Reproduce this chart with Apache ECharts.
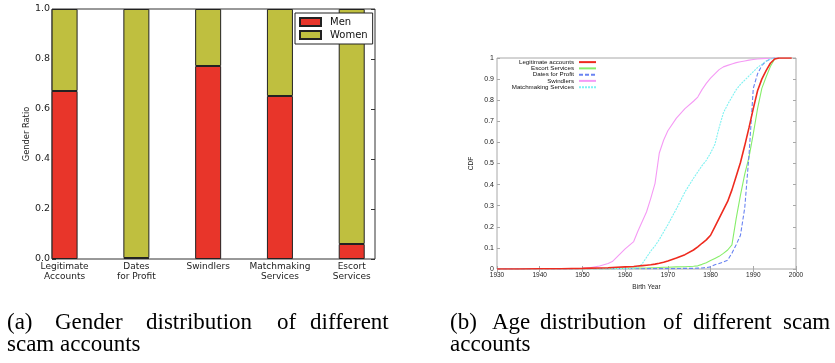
<!DOCTYPE html>
<html><head><meta charset="utf-8">
<script src="https://cdn.jsdelivr.net/npm/echarts@6/dist/echarts.min.js"></script>
<style>html,body{margin:0;padding:0;background:#fff}#c{width:835px;height:363px}</style>
</head><body><div id="c"></div>
<script>
// ---- (a) Gender distribution ----
const categories = ['Legitimate\nAccounts', 'Dates\nfor Profit', 'Swindlers', 'Matchmaking\nServices', 'Escort\nServices'];
const menRatio   = [0.672, 0.004, 0.772, 0.652, 0.060];
const womenRatio = [0.328, 0.996, 0.228, 0.348, 0.940];

// ---- (b) Age distribution (CDF of birth year) ----
const birthYears = [1930,1935,1940,1945,1950,1952,1954,1956,1957,1958,1960,1962,1963,1964,1965,1966,1967,1968,1969,1970,1972,1974,1976,1977,1978,1979,1980,1981,1982,1983,1984,1985,1986,1987,1988,1989,1990,1991,1992,1993,1994,1995,1996,1999];
const cdfLegit = [0,0,0.001,0.001,0.003,0.004,0.005,0.006,0.007,0.008,0.010,0.012,0.014,0.016,0.018,0.020,0.023,0.027,0.032,0.038,0.052,0.068,0.090,0.105,0.122,0.138,0.160,0.200,0.240,0.280,0.320,0.375,0.440,0.505,0.585,0.670,0.760,0.845,0.900,0.940,0.975,0.995,1.000,1.000];
const cdfEscort = [0,0,0,0.001,0.001,0.001,0.002,0.002,0.002,0.003,0.003,0.004,0.004,0.005,0.005,0.006,0.006,0.007,0.008,0.008,0.010,0.011,0.013,0.015,0.022,0.030,0.040,0.050,0.060,0.074,0.090,0.114,0.240,0.350,0.450,0.530,0.640,0.760,0.856,0.910,0.960,0.995,1.000,null];
const cdfDates = [0,0,0,0,0.001,0.001,0.001,0.001,0.001,0.001,0.001,0.001,0.001,0.001,0.002,0.002,0.002,0.002,0.002,0.002,0.002,0.003,0.003,0.004,0.005,0.007,0.010,0.020,0.026,0.033,0.042,0.075,0.115,0.160,0.290,0.540,0.856,0.925,0.965,0.985,0.995,1.000,1.000,null];
const cdfSwindlers = [0,0,0.001,0.001,0.003,0.007,0.014,0.026,0.035,0.055,0.095,0.130,0.180,0.225,0.270,0.335,0.406,0.550,0.610,0.655,0.715,0.760,0.795,0.815,0.850,0.880,0.905,0.925,0.945,0.958,0.965,0.972,0.978,0.982,0.986,0.990,0.993,0.995,0.997,0.998,0.999,1.000,1.000,null];
const cdfMatch = [0,0,0,0,0.001,0.001,0.001,0.001,0.001,0.002,0.002,0.004,0.008,0.025,0.055,0.085,0.110,0.140,0.175,0.210,0.285,0.365,0.430,0.460,0.490,0.515,0.550,0.590,0.670,0.740,0.780,0.815,0.850,0.875,0.895,0.915,0.935,0.955,0.970,0.985,0.995,1.000,1.000,null];
const seriesNames = ['Legitimate accounts', 'Escort Services', 'Dates for Profit', 'Swindlers', 'Matchmaking Services'];

const pair = (ys) => birthYears.map((x, i) => [x, ys[i]]);

const chart = echarts.init(document.getElementById('c'), null, {renderer: 'canvas'});
const sansA = 'DejaVu Sans';
const sansB = 'Liberation Sans';
const serif = '"Liberation Serif"';
const capFont = '23px ' + serif;

function word(t, x, y) {
  return {type: 'text', x: x, y: y, style: {text: t, font: capFont, fill: '#000', align: 'left', verticalAlign: 'middle'}};
}

const option = {
  animation: false,
  backgroundColor: '#fff',
  grid: [
    // frame of panel (a)
    {left: 52, top: 9, width: 323, height: 250, show: true, borderColor: '#333', borderWidth: 1, backgroundColor: 'transparent'},
    // panel (b)
    {left: 497, top: 58, width: 299, height: 211, show: true, borderColor: '#a8a8a8', borderWidth: 1, backgroundColor: 'transparent'},
    // category bands of panel (a) (bars sit at the left of each unit, as in the source plot)
    {left: 28.7, top: 9, width: 358.9, height: 250, show: false}
  ],
  xAxis: [
    {gridIndex: 0, type: 'value', min: 0, max: 1, show: false},
    {gridIndex: 1, type: 'value', min: 1930, max: 2000, interval: 10,
     axisLine: {show: false}, splitLine: {show: false},
     axisTick: {inside: true, length: 3, lineStyle: {color: '#a8a8a8'}},
     axisLabel: {formatter: (v) => String(v), fontFamily: sansB, fontSize: 6.5, color: '#222', margin: 3},
     name: 'Birth Year', nameLocation: 'middle', nameGap: 13,
     nameTextStyle: {fontFamily: sansB, fontSize: 6.5, color: '#222'}},
    {gridIndex: 1, type: 'value', position: 'top', min: 1930, max: 2000, interval: 10,
     axisLine: {show: false}, splitLine: {show: false}, axisLabel: {show: false},
     axisTick: {inside: true, length: 3, lineStyle: {color: '#a8a8a8'}}},
    {gridIndex: 2, type: 'category', data: categories, boundaryGap: true,
     axisLine: {show: false}, axisTick: {show: false}, splitLine: {show: false},
     axisLabel: {fontFamily: sansA, fontSize: 9, color: '#222', lineHeight: 10, margin: 3, interval: 0}}
  ],
  yAxis: [
    {gridIndex: 0, type: 'value', min: 0, max: 1, interval: 0.2,
     axisLine: {show: false}, splitLine: {show: false},
     axisTick: {inside: true, length: 4, lineStyle: {color: '#333'}},
     axisLabel: {formatter: (v) => v.toFixed(1), fontFamily: sansA, fontSize: 9.5, color: '#222', margin: 2},
     name: 'Gender Ratio', nameLocation: 'middle', nameGap: 14, nameRotate: 90,
     nameTextStyle: {fontFamily: sansA, fontSize: 8.3, color: '#222'}},
    {gridIndex: 0, type: 'value', position: 'right', min: 0, max: 1, interval: 0.2,
     axisLine: {show: false}, splitLine: {show: false}, axisLabel: {show: false},
     axisTick: {inside: true, length: 4, lineStyle: {color: '#333'}}},
    {gridIndex: 1, type: 'value', min: 0, max: 1, interval: 0.1,
     axisLine: {show: false}, splitLine: {show: false},
     axisTick: {inside: true, length: 3, lineStyle: {color: '#a8a8a8'}},
     axisLabel: {formatter: (v) => String(parseFloat(v.toFixed(1))), fontFamily: sansB, fontSize: 7, color: '#222', margin: 3},
     name: 'CDF', nameLocation: 'middle', nameGap: 22, nameRotate: 90,
     nameTextStyle: {fontFamily: sansB, fontSize: 6.5, color: '#222'}},
    {gridIndex: 1, type: 'value', position: 'right', min: 0, max: 1, interval: 0.1,
     axisLine: {show: false}, splitLine: {show: false}, axisLabel: {show: false},
     axisTick: {inside: true, length: 3, lineStyle: {color: '#a8a8a8'}}},
    {gridIndex: 2, type: 'value', min: 0, max: 1, show: false}
  ],
  legend: [
    {data: ['Men', 'Women'], orient: 'vertical', left: 295, top: 13, icon: 'rect',
     itemWidth: 21, itemHeight: 8, itemGap: 3,
     padding: [4, 5, 4, 4], borderColor: '#222', borderWidth: 1, backgroundColor: '#fff',
     textStyle: {fontFamily: sansA, fontSize: 10, color: '#111', padding: [0, 0, 0, 4]}},
    {data: seriesNames, orient: 'vertical', align: 'right', right: 238, top: 59,
     itemWidth: 17, itemHeight: 6.25, itemGap: 0, padding: 0,
     itemStyle: {color: 'transparent', borderColor: 'transparent', borderWidth: 0, opacity: 0},
     textStyle: {fontFamily: sansB, fontSize: 6.2, color: '#111', lineHeight: 6.25}}
  ],
  series: [
    {name: 'Men', type: 'bar', xAxisIndex: 3, yAxisIndex: 4, stack: 'g', barWidth: 26,
     data: menRatio, itemStyle: {color: '#e8352a', borderColor: '#222', borderWidth: 1}},
    {name: 'Women', type: 'bar', xAxisIndex: 3, yAxisIndex: 4, stack: 'g', barWidth: 26,
     data: womenRatio, itemStyle: {color: '#bfbf3f', borderColor: '#222', borderWidth: 1}},
    {name: seriesNames[0], type: 'line', xAxisIndex: 1, yAxisIndex: 2, data: pair(cdfLegit), symbol: 'none',
     lineStyle: {color: '#ee2a1e', width: 1.6}, itemStyle: {color: '#ee2a1e'}, z: 5},
    {name: seriesNames[1], type: 'line', xAxisIndex: 1, yAxisIndex: 2, data: pair(cdfEscort), symbol: 'none',
     lineStyle: {color: '#86ee6a', width: 1.1}, itemStyle: {color: '#86ee6a'}},
    {name: seriesNames[2], type: 'line', xAxisIndex: 1, yAxisIndex: 2, data: pair(cdfDates), symbol: 'none',
     lineStyle: {color: '#6a84f2', width: 1.1, type: [4, 2]}, itemStyle: {color: '#6a84f2'}},
    {name: seriesNames[3], type: 'line', xAxisIndex: 1, yAxisIndex: 2, data: pair(cdfSwindlers), symbol: 'none',
     lineStyle: {color: '#f59af5', width: 1.1}, itemStyle: {color: '#f59af5'}},
    {name: seriesNames[4], type: 'line', xAxisIndex: 1, yAxisIndex: 2, data: pair(cdfMatch), symbol: 'none',
     lineStyle: {color: '#7ff2f2', width: 1.1, type: [2, 1]}, itemStyle: {color: '#7ff2f2'}}
  ],
  graphic: [
    word('(a)', 7, 322.5), word('Gender', 55, 322.5), word('distribution', 146, 322.5), word('of', 277, 322.5), word('different', 310, 322.5),
    word('scam accounts', 7, 344.5),
    word('(b)', 450, 322.5), word('Age', 492, 322.5), word('distribution', 540, 322.5), word('of', 663, 322.5), word('different', 693, 322.5), word('scam', 783, 322.5),
    word('accounts', 450, 344.5)
  ]
};
chart.setOption(option);
</script>
</body></html>
